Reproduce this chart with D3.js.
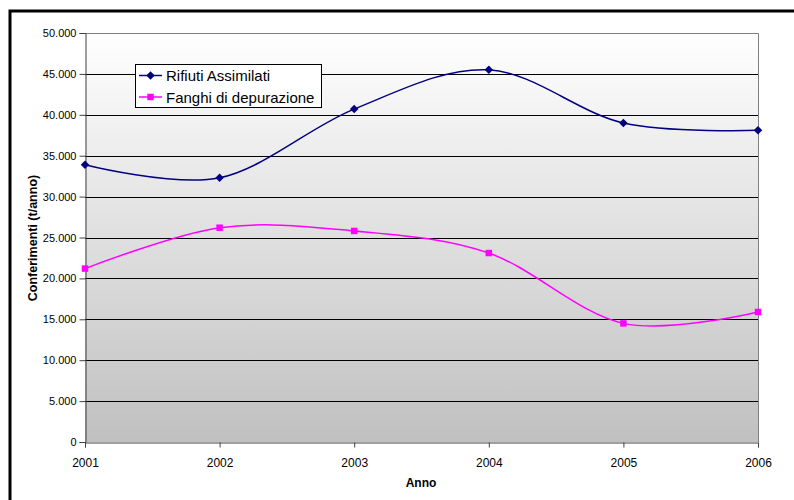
<!DOCTYPE html>
<html><head><meta charset="utf-8">
<script src="https://cdn.jsdelivr.net/npm/d3@7"></script>
<style>body{margin:0;background:#fff}svg{display:block;font-family:"Liberation Sans",Arial,sans-serif}</style>
</head><body>
<svg id="c" width="794" height="500"></svg>
<script>
const years = ["2001","2002","2003","2004","2005","2006"];
const rifiuti = [33900, 32300, 40700, 45500, 39000, 38100];
const fanghi = [21200, 26200, 25800, 23100, 14500, 15900];
const seriesNames = ["Rifiuti Assimilati", "Fanghi di depurazione"];
const yTicks = [0,5000,10000,15000,20000,25000,30000,35000,40000,45000,50000];

const svg = d3.select("#c");
const L=85, R=758, T=33, B=442;
const x = d3.scalePoint().domain(years).range([L,R]);
const y = d3.scaleLinear().domain([0,50000]).range([B,T]);
const fmt = d => d3.format(",")(d).replace(/,/g,".");

// frame
svg.append("path").attr("d","M10,510 L10,11 L800,11").attr("fill","none").attr("stroke","#000").attr("stroke-width",3);

const defs = svg.append("defs");
const g = defs.append("linearGradient").attr("id","bg").attr("x1",0).attr("y1",0).attr("x2",0).attr("y2",1);
g.append("stop").attr("offset","0").attr("stop-color","#ffffff");
g.append("stop").attr("offset","1").attr("stop-color","#c0c0c0");
svg.append("rect").attr("x",L).attr("y",T).attr("width",R-L).attr("height",B-T).attr("fill","url(#bg)");

// gridlines
svg.append("g").selectAll("line").data(yTicks.filter(d=>d>0&&d<50000)).join("line")
  .attr("x1",L).attr("x2",R).attr("y1",d=>Math.round(y(d))+0.5).attr("y2",d=>Math.round(y(d))+0.5)
  .attr("stroke","#000").attr("stroke-width",1);
// plot border top/right
svg.append("path").attr("d",`M${L},${T+0.5} L${R+0.5},${T+0.5} L${R+0.5},${B}`).attr("fill","none").attr("stroke","#808080");

// axes
const ya = svg.append("g").attr("transform",`translate(${L+0.5},0)`)
  .call(d3.axisLeft(y).tickValues(yTicks).tickFormat(fmt).tickSize(6).tickPadding(3));
const xa = svg.append("g").attr("transform",`translate(0,${B+0.5})`)
  .call(d3.axisBottom(x).tickSize(5).tickPadding(11));
[ya,xa].forEach(a=>{
  a.select(".domain").attr("stroke","#404040");
  a.selectAll(".tick line").attr("stroke","#404040");
  a.selectAll("text").attr("font-family","Liberation Sans, Arial, sans-serif").attr("fill","#000");
});
ya.selectAll("text").attr("font-size",11);
xa.selectAll("text").attr("font-size",12);

// axis titles
svg.append("text").attr("x",421).attr("y",487).attr("text-anchor","middle")
  .attr("font-size",12).attr("font-weight","bold").text("Anno");
svg.append("text").attr("transform","translate(37,238) rotate(-90)").attr("text-anchor","middle")
  .attr("font-size",12.5).attr("font-weight","bold").text("Conferimenti (t/anno)");

// markers
const diamond = {draw(ctx, size){const r=Math.sqrt(size/2); ctx.moveTo(0,-r); ctx.lineTo(r,0); ctx.lineTo(0,r); ctx.lineTo(-r,0); ctx.closePath();}};
const line = d3.line().x((d,i)=>x(years[i])).y(d=>y(d)).curve(d3.curveCatmullRom.alpha(0));
const data = [
  {vals:rifiuti, color:"#000080", shape:diamond, size:36},
  {vals:fanghi, color:"#ff00ff", shape:d3.symbolSquare, size:42}
];
data.forEach(s=>{
  svg.append("path").attr("d",line(s.vals)).attr("fill","none").attr("stroke",s.color).attr("stroke-width",1.5);
  svg.append("g").selectAll("path").data(s.vals).join("path")
    .attr("transform",(d,i)=>`translate(${x(years[i])},${y(d)})`)
    .attr("d",d3.symbol().type(s.shape).size(s.size))
    .attr("fill",s.color);
});

// legend
const lg = svg.append("g");
lg.append("rect").attr("x",135.5).attr("y",64.5).attr("width",186).attr("height",43).attr("fill","#fff").attr("stroke","#000");
data.forEach((s,i)=>{
  const cy = 75.5 + i*21.5;
  lg.append("line").attr("x1",139).attr("x2",162).attr("y1",cy).attr("y2",cy).attr("stroke",s.color).attr("stroke-width",1.5);
  lg.append("path").attr("transform",`translate(150.5,${cy})`)
    .attr("d",d3.symbol().type(s.shape).size(s.size)).attr("fill",s.color);
  lg.append("text").attr("x",166).attr("y",cy+5.5).attr("font-size",15).text(seriesNames[i]);
});
</script>
</body></html>
